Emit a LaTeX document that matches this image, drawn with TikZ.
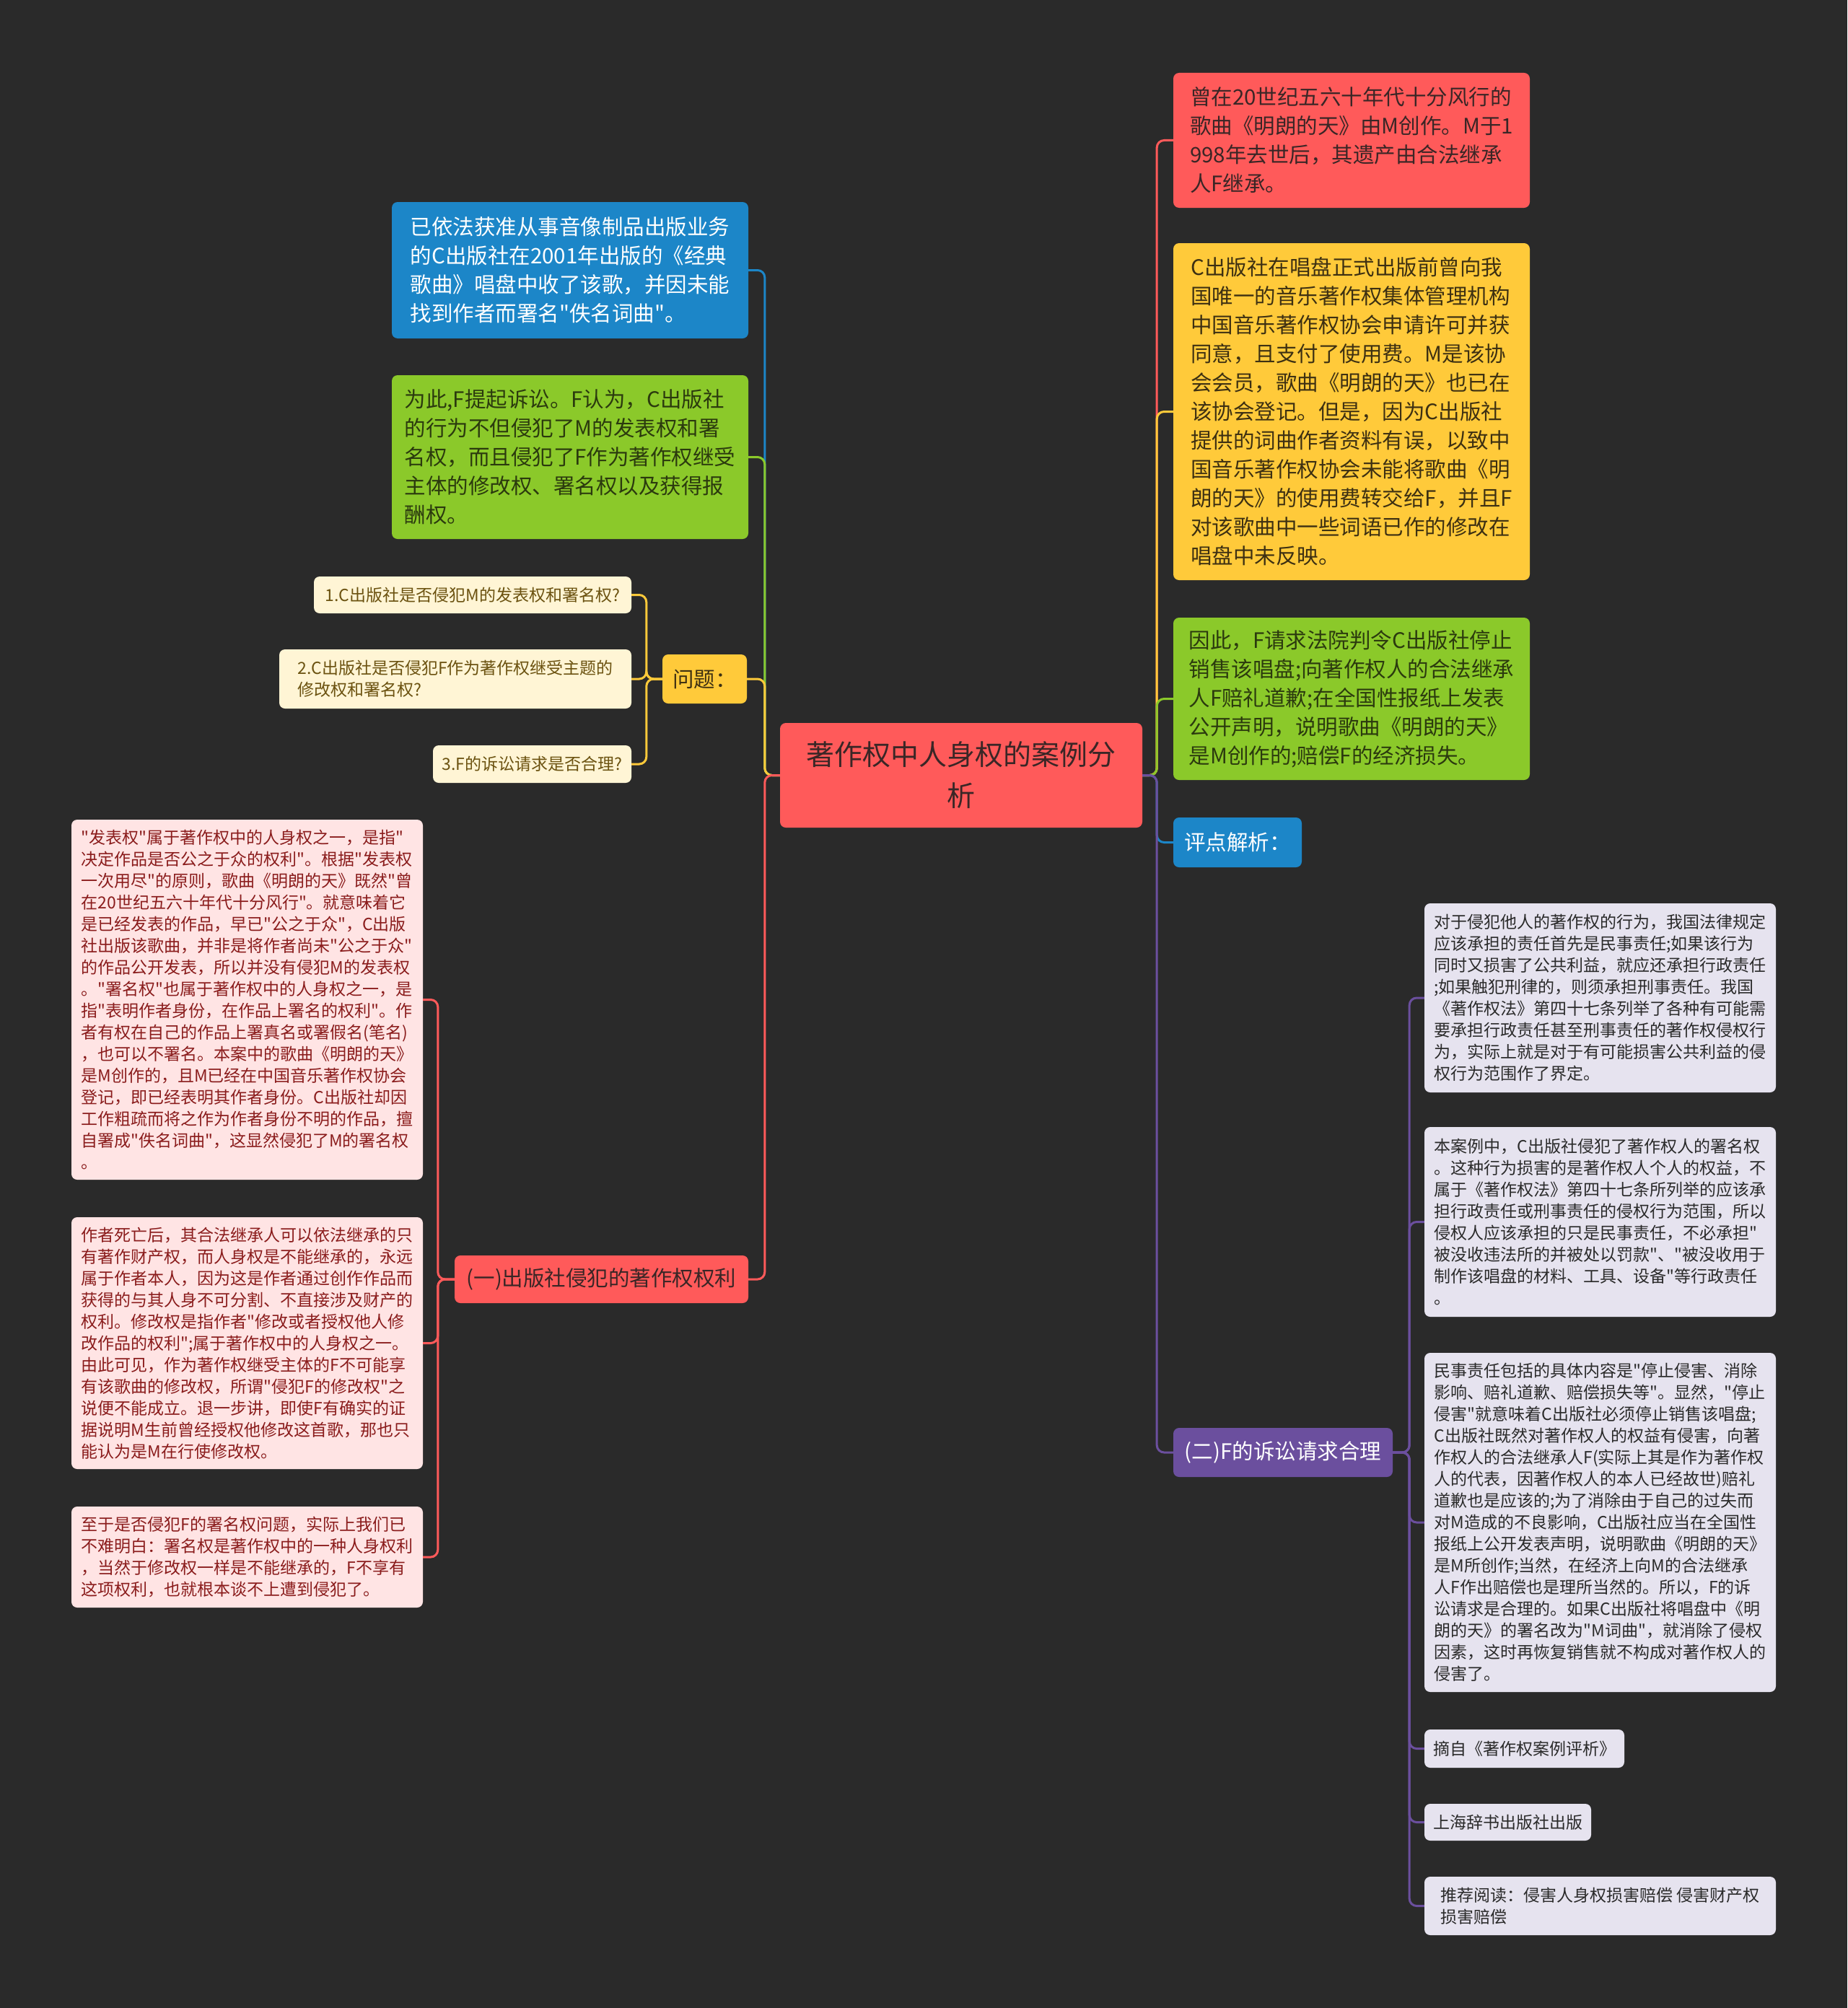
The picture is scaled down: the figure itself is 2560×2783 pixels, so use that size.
\documentclass[tikz,border=0pt]{standalone}
\usepackage{fontspec}
\setmainfont{Noto Sans CJK SC}[Ligatures=TeXOff]
\usepackage{xcolor}
\usepackage{tikz}

\definecolor{bgdark}{HTML}{2A2A2A}
\definecolor{mapred}{HTML}{FF5A5A}
\definecolor{redink}{HTML}{3A2626}
\definecolor{mapblue}{HTML}{1C86C8}
\definecolor{mapgreen}{HTML}{8BC92A}
\definecolor{greenink}{HTML}{2B3A0E}
\definecolor{mapgold}{HTML}{FFCA3A}
\definecolor{goldink}{HTML}{3D3012}
\definecolor{cream}{HTML}{FFF5D5}
\definecolor{creamink}{HTML}{6B5210}
\definecolor{pink}{HTML}{FFE4E4}
\definecolor{pinkink}{HTML}{8A1C1C}
\definecolor{lilac}{HTML}{E6E3EF}
\definecolor{lilacink}{HTML}{2A2A2A}
\definecolor{mappurple}{HTML}{6B4F9E}

\begin{document}
\begin{tikzpicture}
  [
    x=1pt, y=-1pt,
    Box/.style={rounded corners=8pt, inner sep=0pt, align=left},
    Size/.style 2 args={minimum width=#1pt, minimum height=#2pt},
    Root/.style={Box, fill=mapred, text=redink, align=center, font=\fontsize{39}{57}\selectfont},
    Big/.style={Box, font=\fontsize{29.5}{40}\selectfont},
    Small/.style={Box, font=\fontsize{23}{30}\selectfont},
    RedBig/.style={Big, fill=mapred, text=redink},
    BlueBig/.style={Big, fill=mapblue, text=white},
    GreenBig/.style={Big, fill=mapgreen, text=greenink},
    GoldBig/.style={Big, fill=mapgold, text=goldink},
    PurpleBig/.style={Big, fill=mappurple, text=white},
    Cream/.style={Small, fill=cream, text=creamink},
    Pink/.style={Small, fill=pink, text=pinkink},
    Lilac/.style={Small, fill=lilac, text=lilacink},
    Line/.style={draw, line width=3pt, rounded corners=10pt}
  ]
  \path[use as bounding box, fill=bgdark] (0, 0) rectangle (2560, 2783);

  % Nodes
  \node[Root, Size={502}{145}] (root) at(1332, 1074.5)
    {著作权中人身权的案例分\\析};

  \node[BlueBig, Size={494}{189}] (publish) at(790, 374.5)
    {已依法获准从事音像制品出版业务\\的C出版社在2001年出版的《经典\\歌曲》唱盘中收了该歌，并因未能\\找到作者而署名"佚名词曲"。};

  \node[GreenBig, Size={494}{227}] (suit) at(790, 633.5)
    {为此,F提起诉讼。F认为，C出版社\\的行为不但侵犯了M的发表权和署\\名权，而且侵犯了F作为著作权继受\\主体的修改权、署名权以及获得报\\酬权。};

  \node[GoldBig, Size={117}{68}] (ask) at(976.5, 941) {问题：};

  \node[Cream, Size={440}{51}] (q1) at(655, 824.5)
    {1.C出版社是否侵犯M的发表权和署名权?};

  \node[Cream, Size={488}{82}] (q2) at(631, 941)
    {2.C出版社是否侵犯F作为著作权继受主题的\\修改权和署名权?};

  \node[Cream, Size={275}{52}] (q3) at(737.5, 1059) {3.F的诉讼请求是否合理?};

  \node[RedBig, Size={407}{66}] (one) at(833.5, 1773) {(一)出版社侵犯的著作权权利};

  \node[Pink, Size={487}{499}] (p1) at(342.5, 1385.5)
    {"发表权"属于著作权中的人身权之一，是指"\\决定作品是否公之于众的权利"。根据"发表权\\一次用尽"的原则，歌曲《明朗的天》既然"曾\\在20世纪五六十年代十分风行"。就意味着它\\是已经发表的作品，早已"公之于众"，C出版\\社出版该歌曲，并非是将作者尚未"公之于众"\\的作品公开发表，所以并没有侵犯M的发表权\\。"署名权"也属于著作权中的人身权之一，是\\指"表明作者身份，在作品上署名的权利"。作\\者有权在自己的作品上署真名或署假名(笔名)\\，也可以不署名。本案中的歌曲《明朗的天》\\是M创作的，且M已经在中国音乐著作权协会\\登记，即已经表明其作者身份。C出版社却因\\工作粗疏而将之作为作者身份不明的作品，擅\\自署成"佚名词曲"，这显然侵犯了M的署名权\\。};

  \node[Pink, Size={487}{349}] (p2) at(342.5, 1861.5)
    {作者死亡后，其合法继承人可以依法继承的只\\有著作财产权，而人身权是不能继承的，永远\\属于作者本人，因为这是作者通过创作作品而\\获得的与其人身不可分割、不直接涉及财产的\\权利。修改权是指作者"修改或者授权他人修\\改作品的权利";属于著作权中的人身权之一。\\由此可见，作为著作权继受主体的F不可能享\\有该歌曲的修改权，所谓"侵犯F的修改权"之\\说便不能成立。退一步讲，即使F有确实的证\\据说明M生前曾经授权他修改这首歌，那也只\\能认为是M在行使修改权。};

  \node[Pink, Size={487}{140}] (p3) at(342.5, 2158)
    {至于是否侵犯F的署名权问题，实际上我们已\\不难明白：署名权是著作权中的一种人身权利\\，当然于修改权一样是不能继承的，F不享有\\这项权利，也就根本谈不上遭到侵犯了。};

  \node[RedBig, Size={494}{187}] (song) at(1873, 194.5)
    {曾在20世纪五六十年代十分风行的\\歌曲《明朗的天》由M创作。M于1\\998年去世后，其遗产由合法继承\\人F继承。};

  \node[GoldBig, Size={494}{467}] (licence) at(1873, 570.5)
    {C出版社在唱盘正式出版前曾向我\\国唯一的音乐著作权集体管理机构\\中国音乐著作权协会申请许可并获\\同意，且支付了使用费。M是该协\\会会员，歌曲《明朗的天》也已在\\该协会登记。但是，因为C出版社\\提供的词曲作者资料有误，以致中\\国音乐著作权协会未能将歌曲《明\\朗的天》的使用费转交给F，并且F\\对该歌曲中一些词语已作的修改在\\唱盘中未反映。};

  \node[GreenBig, Size={494}{225}] (claim) at(1873, 968.5)
    {因此，F请求法院判令C出版社停止\\销售该唱盘;向著作权人的合法继承\\人F赔礼道歉;在全国性报纸上发表\\公开声明，说明歌曲《明朗的天》\\是M创作的;赔偿F的经济损失。};

  \node[BlueBig, Size={178}{69}] (review) at(1715, 1167.5) {评点解析：};

  \node[PurpleBig, Size={304}{68}] (two) at(1778, 2013) {(二)F的诉讼请求合理};

  \node[Lilac, Size={487}{262}] (c1) at(2217.5, 1383)
    {对于侵犯他人的著作权的行为，我国法律规定\\应该承担的责任首先是民事责任;如果该行为\\同时又损害了公共利益，就应还承担行政责任\\;如果触犯刑律的，则须承担刑事责任。我国\\《著作权法》第四十七条列举了各种有可能需\\要承担行政责任甚至刑事责任的著作权侵权行\\为，实际上就是对于有可能损害公共利益的侵\\权行为范围作了界定。};

  \node[Lilac, Size={487}{263}] (c2) at(2217.5, 1693.5)
    {本案例中，C出版社侵犯了著作权人的署名权\\。这种行为损害的是著作权人个人的权益，不\\属于《著作权法》第四十七条所列举的应该承\\担行政责任或刑事责任的侵权行为范围，所以\\侵权人应该承担的只是民事责任，不必承担"\\被没收违法所的并被处以罚款"、"被没收用于\\制作该唱盘的材料、工具、设备"等行政责任\\。};

  \node[Lilac, Size={487}{470}] (c3) at(2217.5, 2110)
    {民事责任包括的具体内容是"停止侵害、消除\\影响、赔礼道歉、赔偿损失等"。显然，"停止\\侵害"就意味着C出版社必须停止销售该唱盘;\\C出版社既然对著作权人的权益有侵害，向著\\作权人的合法继承人F(实际上其是作为著作权\\人的代表，因著作权人的本人已经故世)赔礼\\道歉也是应该的;为了消除由于自己的过失而\\对M造成的不良影响，C出版社应当在全国性\\报纸上公开发表声明，说明歌曲《明朗的天》\\是M所创作;当然，在经济上向M的合法继承\\人F作出赔偿也是理所当然的。所以，F的诉\\讼请求是合理的。如果C出版社将唱盘中《明\\朗的天》的署名改为"M词曲"，就消除了侵权\\因素，这时再恢复销售就不构成对著作权人的\\侵害了。};

  \node[Lilac, Size={277}{53}] (c4) at(2112.5, 2423.5) {摘自《著作权案例评析》};

  \node[Lilac, Size={231}{51}] (c5) at(2089.5, 2525.5) {上海辞书出版社出版};

  \node[Lilac, Size={487}{81}] (c6) at(2217.5, 2641.5)
    {推荐阅读：侵害人身权损害赔偿 侵害财产权\\损害赔偿};

  % Lines
  \path [Line, mapblue] (root.west) -- ++(-21, 0) |- (publish.east);
  \path [Line, mapgreen] (root.west) -- ++(-21, 0) |- (suit.east);
  \path [Line, mapgold] (root.west) -- ++(-21, 0) |- (ask.east);
  \path [Line, mapred] (root.west) -- ++(-21, 0) |- (one.east);

  \path [Line, mapgold] (ask.west) -- ++(-22, 0) |- (q1.east);
  \path [Line, mapgold] (ask.west) -- ++(-22, 0) |- (q2.east);
  \path [Line, mapgold] (ask.west) -- ++(-22, 0) |- (q3.east);

  \path [Line, mapred] (one.west) -- ++(-23, 0) |- (p1.east);
  \path [Line, mapred] (one.west) -- ++(-23, 0) |- (p2.east);
  \path [Line, mapred] (one.west) -- ++(-23, 0) |- (p3.east);

  \path [Line, mapred] (root.east) -- ++(20, 0) |- (song.west);
  \path [Line, mapgold] (root.east) -- ++(20, 0) |- (licence.west);
  \path [Line, mapgreen] (root.east) -- ++(20, 0) |- (claim.west);
  \path [Line, mapblue] (root.east) -- ++(20, 0) |- (review.west);
  \path [Line, mappurple] (root.east) -- ++(20, 0) |- (two.west);

  \path [Line, mappurple] (two.east) -- ++(23, 0) |- (c1.west);
  \path [Line, mappurple] (two.east) -- ++(23, 0) |- (c2.west);
  \path [Line, mappurple] (two.east) -- ++(23, 0) |- (c3.west);
  \path [Line, mappurple] (two.east) -- ++(23, 0) |- (c4.west);
  \path [Line, mappurple] (two.east) -- ++(23, 0) |- (c5.west);
  \path [Line, mappurple] (two.east) -- ++(23, 0) |- (c6.west);

\end{tikzpicture}
\end{document}
